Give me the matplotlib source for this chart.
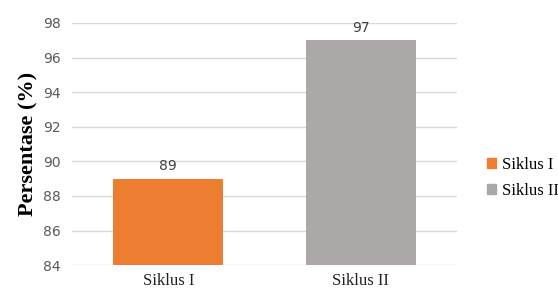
import matplotlib
matplotlib.use('Agg')
from matplotlib import pyplot as plt
from matplotlib.patches import Patch

categories = ['Siklus I', 'Siklus II']
values = [89, 97]
colors = ['#ED7D31', '#ABA8A7']
y_ticks = [84, 86, 88, 90, 92, 94, 96, 98]

fig = plt.figure(figsize=(5.58, 2.91), dpi=100)
ax = fig.add_axes([0.129, 0.089, 0.690, 0.832])

x = range(len(categories))
bars = ax.bar(x, values, width=0.57, color=colors, zorder=3)
for xi, v in zip(x, values):
    ax.text(xi, v + 0.3, str(v), ha='center', va='bottom', fontsize=10,
            color='#404040', family='DejaVu Sans', zorder=4)

ax.set_ylim(84, 98)
ax.set_xlim(-0.5, 1.5)
ax.set_yticks(y_ticks)
ax.set_yticklabels([str(t) for t in y_ticks], fontsize=10, color='#595959')
ax.set_xticks(list(x))
ax.set_xticklabels(categories, family='Liberation Serif', fontsize=12, color='#202020')
ax.tick_params(length=0, pad=8)
ax.tick_params(axis='x', pad=6)
ax.grid(axis='y', color='#D9D9D9', linewidth=1, zorder=0)
for s in ax.spines.values():
    s.set_visible(False)

ax.set_ylabel('Persentase (%)', family='Liberation Serif', fontweight='bold',
              fontsize=16, labelpad=3)

handles = [Patch(color=c) for c in colors]
fig.legend(handles, categories, loc='center left', bbox_to_anchor=(0.848, 0.39),
           frameon=False, prop={'family': 'Liberation Serif', 'size': 12},
           handlelength=0.55, handleheight=0.55, handletextpad=0.35, labelspacing=0.6,
           borderpad=0.3)

fig.savefig('out.png', dpi=100)
